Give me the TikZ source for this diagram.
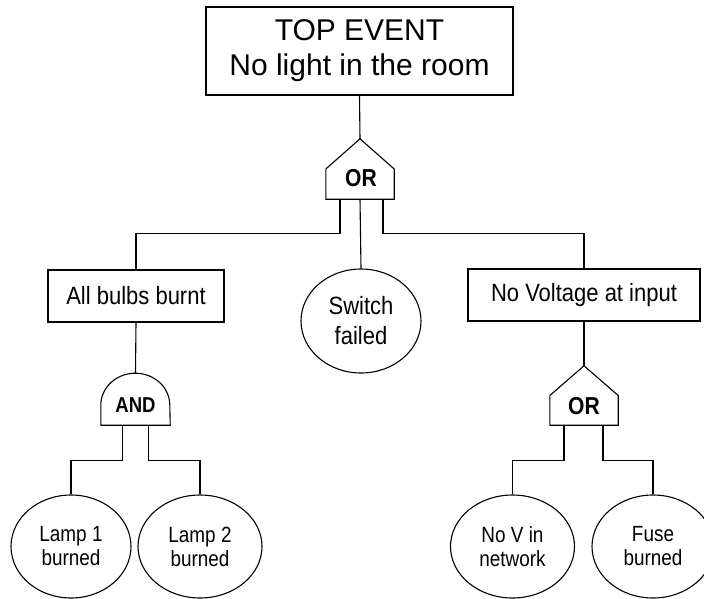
\documentclass[tikz,border=0pt]{standalone}
\usepackage{fontspec}
\setmainfont{Liberation Sans}
\newfontfamily\nf[FakeStretch=0.86]{Liberation Sans}
\newfontfamily\mf[FakeStretch=0.88]{Liberation Sans}
\usetikzlibrary{shapes.geometric}
\begin{document}
\begin{tikzpicture}[x=1pt,y=-1pt,
  wire/.style={line width=1.1pt, line join=miter},
  evt/.style={draw, line width=1.1pt, rectangle, inner sep=0pt, align=center},
  basic/.style={draw, line width=1.1pt, ellipse, inner sep=0pt, minimum width=122pt, minimum height=103pt, align=center},
  gate/.style={inner sep=0pt, minimum width=68pt, minimum height=60pt},
  andgate/.style={inner sep=0pt, minimum width=69pt, minimum height=52pt},
  glabel/.style={inner sep=0pt, font=\nf\bfseries\fontsize{24.5}{28}\selectfont},
  midfont/.style={font=\mf\fontsize{25}{30}\selectfont},
  lowfont/.style={font=\nf\fontsize{22}{24}\selectfont}
]
\useasboundingbox (0,0) rectangle (704,599);
\clip (0,0) rectangle (704,599);

% top event
\node[evt, minimum width=307pt, minimum height=88pt, font=\fontsize{30}{35}\selectfont] (top) at (359.5,51) {TOP EVENT\\No light in the room};

% OR gate 1
\node[gate] (or1) at (360,169) {};
\draw[wire] (or1.south west) -- (or1.west) -- (or1.north) -- (or1.east) -- (or1.south east) -- cycle;
\node[glabel] (or1lab) at (361,178) {OR};

% middle row
\node[evt, midfont, minimum width=176pt, minimum height=52pt] (bulbs) at (136,296) {All bulbs burnt};
\node[basic, midfont, minimum width=120pt, minimum height=104pt] (switch) at (361,321) {Switch\\failed};
\node[evt, midfont, minimum width=232pt, minimum height=52pt] (nov) at (584,295) {No Voltage at input};

% AND gate
\node[andgate] (and1) at (135.5,399) {};
\draw[wire] (and1.south west) -- ++(0,-20) arc[start angle=180, end angle=360, x radius=34.5, y radius=32] -- (and1.south east) -- cycle;
\node[glabel, font=\nf\bfseries\fontsize{21.5}{24}\selectfont] (and1lab) at (135.5,405) {AND};

% OR gate 2
\node[gate, minimum height=59pt] (or2) at (584,395.5) {};
\draw[wire] (or2.south west) -- (or2.west) -- (or2.north) -- (or2.east) -- (or2.south east) -- cycle;
\node[glabel] (or2lab) at (584,406) {OR};

% bottom row
\node[basic, lowfont, minimum width=120pt] (lamp1) at (71,546.5) {Lamp 1\\burned};
\node[basic, lowfont, minimum width=124pt] (lamp2) at (200,546.5) {Lamp 2\\burned};
\node[basic, lowfont, minimum width=124pt] (novnet) at (512.5,546.5) {No V in\\network};
\node[basic, lowfont, minimum width=122pt] (fuse) at (653,546.5) {Fuse\\burned};

% connectors
\draw[wire] (top.south) -- (or1.north);
\draw[wire] ([xshift=-20pt]or1.south) -- ++(0,34) -| (bulbs.north);
\draw[wire] (or1.south) -- (switch.north);
\draw[wire] ([xshift=23pt]or1.south) -- ++(0,34) -| (nov.north);
\draw[wire] (bulbs.south) -- (and1.north);
\draw[wire] (nov.south) -- (or2.north);
\draw[wire] ([xshift=-13pt]and1.south) -- ++(0,35) -| (lamp1.north);
\draw[wire] ([xshift=13pt]and1.south) -- ++(0,35) -| (lamp2.north);
\draw[wire] ([xshift=-20pt]or2.south) -- ++(0,35) -| (novnet.north);
\draw[wire] ([xshift=19pt]or2.south) -- ++(0,35) -| (fuse.north);
\end{tikzpicture}
\end{document}
